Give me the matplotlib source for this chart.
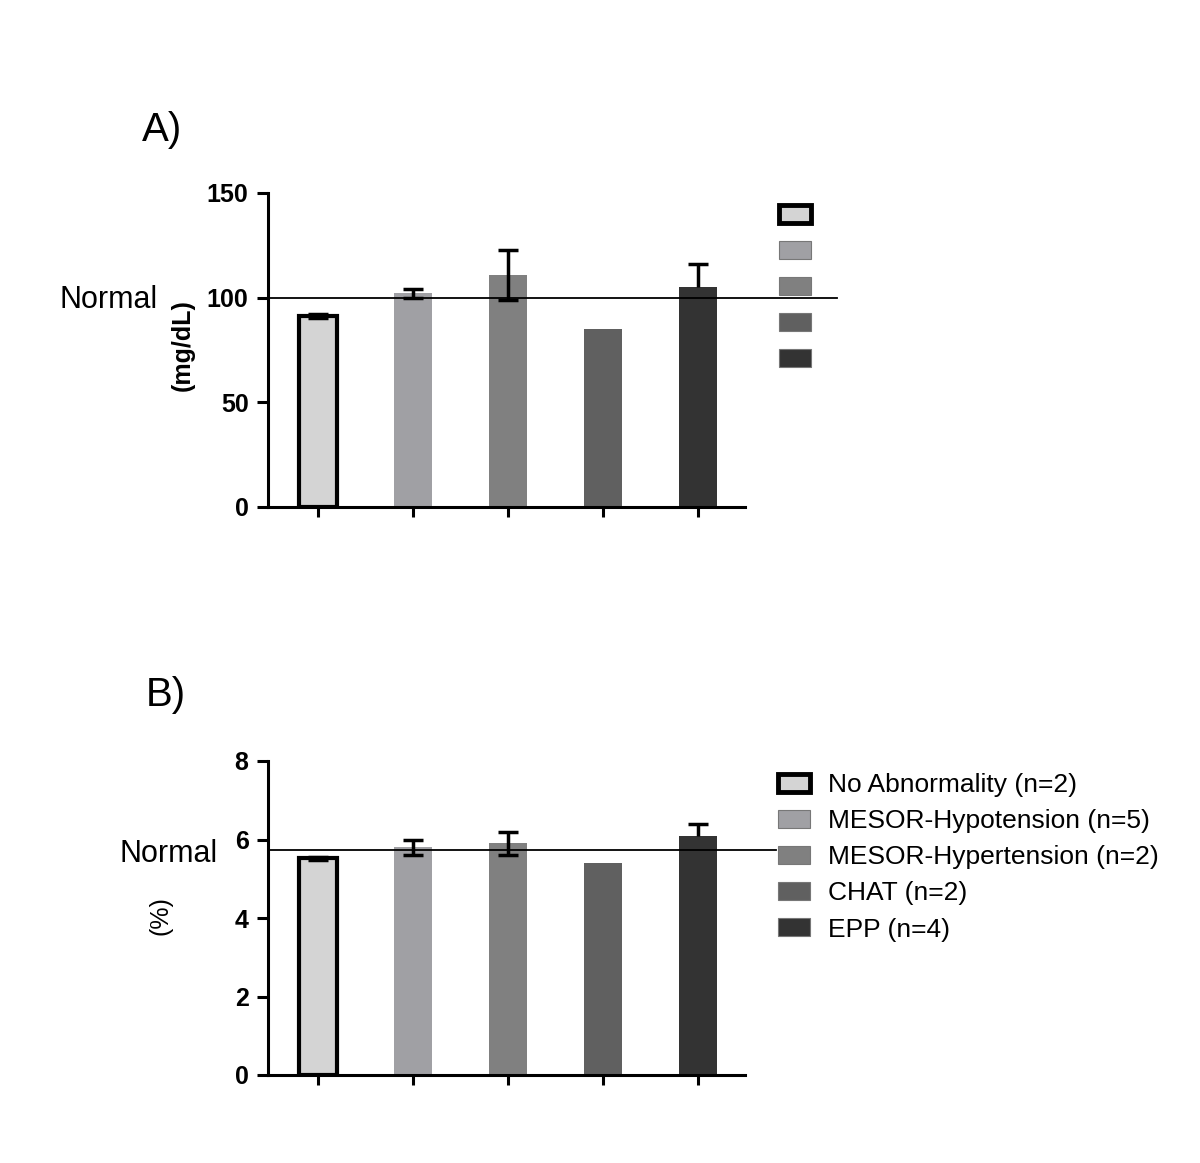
import matplotlib
matplotlib.use('Agg')
import matplotlib.pyplot as plt
from matplotlib.patches import Patch
import numpy as np

plt.rcParams['font.family'] = ['Liberation Sans', 'DejaVu Sans']

# data
groups = ['No Abnormality (n=2)', 'MESOR-Hypotension (n=5)',
          'MESOR-Hypertension (n=2)', 'CHAT (n=2)', 'EPP (n=4)']
colors = ['#d4d4d4', '#a0a0a4', '#808080', '#606060', '#333333']

glucose = [91.3, 102, 111, 85, 105]
glucose_err_lo = [1, 2, 12, 0, 0]
glucose_err_hi = [1, 2, 12, 0, 11]
glucose_normal = 100

hba1c = [5.52, 5.8, 5.9, 5.4, 6.1]
hba1c_err_lo = [0.03, 0.2, 0.3, 0, 0]
hba1c_err_hi = [0.03, 0.2, 0.3, 0, 0.3]
hba1c_normal = 5.73

fig = plt.figure(figsize=(12, 11.63), dpi=100)
W, H = 1200., 1163.


def panel(rect, vals, err_lo, err_hi, normal, ylim, yticks, ylabel, ylabel_bold,
          line_end, letter, letter_xy, normal_xy, ylabel_xy, legend_xy, show_text):
    ax = fig.add_axes(rect)
    x = np.arange(len(vals))
    for i in range(len(vals)):
        if i == 0:
            ax.bar(x[i], vals[i], width=0.4, color=colors[i], edgecolor='black',
                   linewidth=3, zorder=2)
        else:
            ax.bar(x[i], vals[i], width=0.4, color=colors[i], linewidth=0, zorder=2)
    lo = np.array(err_lo)
    hi = np.array(err_hi)
    v = np.array(vals)
    # two-sided bars
    m = (lo > 0) & (hi > 0)
    ax.errorbar(x[m], v[m], yerr=[lo[m], hi[m]], fmt='none',
                ecolor='black', elinewidth=2.5, capsize=7, capthick=2.5, zorder=3)
    # upper-only bars
    m = (lo == 0) & (hi > 0)
    ax.errorbar(x[m], v[m], yerr=[lo[m], hi[m]], fmt='none', lolims=False,
                ecolor='black', elinewidth=2.5, capsize=0, zorder=3)
    ax.scatter(x[m], (v + hi)[m], marker='_', s=200, linewidths=2.5,
               color='black', zorder=3)
    ax.plot([0, line_end], [normal, normal], color='black', lw=1.3,
            transform=ax.get_yaxis_transform(), clip_on=False, zorder=4)

    ax.set_xlim(-0.526, 4.495)
    ax.set_ylim(*ylim)
    ax.set_yticks(yticks)
    ax.set_xticks(x)
    ax.set_xticklabels([])
    for s in ['top', 'right']:
        ax.spines[s].set_visible(False)
    for s in ['left', 'bottom']:
        ax.spines[s].set_linewidth(2.2)
    ax.tick_params(axis='y', length=8, width=2.2, labelsize=18, pad=6)
    ax.tick_params(axis='x', length=7, width=2.2)
    for t in ax.get_yticklabels():
        t.set_fontweight('bold')

    fig.text(letter_xy[0] / W, 1 - letter_xy[1] / H, letter, fontsize=29,
             ha='left', va='center')
    fig.text(normal_xy[0] / W, 1 - normal_xy[1] / H, 'Normal', fontsize=22,
             ha='left', va='center')
    fig.text(ylabel_xy[0] / W, 1 - ylabel_xy[1] / H, ylabel, fontsize=18,
             rotation=90, ha='center', va='center',
             fontweight='bold' if ylabel_bold else 'normal')

    handles = []
    for i, c in enumerate(colors):
        if i == 0:
            handles.append(Patch(facecolor=c, edgecolor='black', linewidth=3.5))
        else:
            handles.append(Patch(facecolor=c, edgecolor='#777777', linewidth=0.8))
    labels = groups if show_text else [''] * len(groups)
    fig.legend(handles, labels, loc='upper left',
               bbox_to_anchor=(legend_xy[0] / W, 1 - legend_xy[1] / H),
               frameon=False, fontsize=19, handlelength=1.2, handleheight=0.65,
               handletextpad=0.7, labelspacing=0.46, borderpad=0, borderaxespad=0)
    return ax


panel([268 / W, 1 - 507 / H, 477 / W, 314 / H], glucose, glucose_err_lo,
      glucose_err_hi, glucose_normal, (0, 150), [0, 50, 100, 150], '(mg/dL)', True,
      (837 - 268) / 477., 'A)', (142, 130), (60, 300), (183, 345), (779, 204), False)

panel([268 / W, 1 - 1075 / H, 477 / W, 314 / H], hba1c, hba1c_err_lo,
      hba1c_err_hi, hba1c_normal, (0, 8), [0, 2, 4, 6, 8], '(%)', False,
      (776 - 268) / 477., 'B)', (146, 695), (120, 854), (160, 916), (778, 773), True)

fig.savefig('out.png', dpi=100)
